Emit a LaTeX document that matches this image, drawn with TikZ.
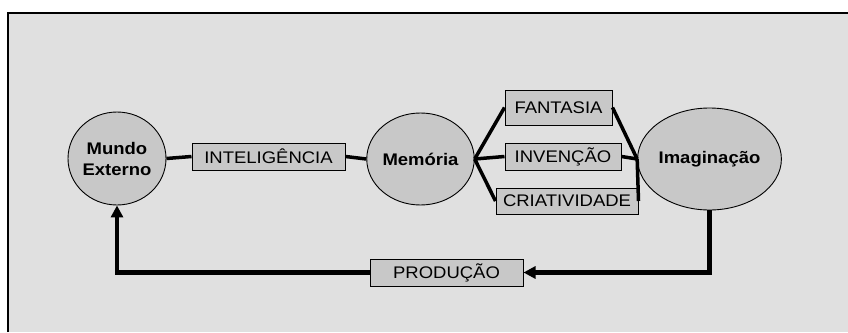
\documentclass[tikz,border=0pt]{standalone}
\usepackage{fontspec}
\setmainfont{Liberation Sans}[FakeStretch=1.1]
\usetikzlibrary{arrows.meta,shapes.geometric}
\definecolor{fundo}{RGB}{224,224,224}
\definecolor{cinza}{RGB}{200,200,200}
\tikzset{
  circulo/.style={ellipse, draw, line width=0.9pt, fill=cinza, inner sep=0pt,
    font=\fontsize{16.8}{21}\selectfont\bfseries, align=center},
  caixa/.style={rectangle, draw, line width=1pt, fill=cinza, inner sep=0pt,
    font=\fontsize{16.8}{20}\selectfont},
  liga/.style={line width=3.5pt},
  seta/.style={line width=4.3pt, -{Triangle[length=12pt,width=12pt]}},
}
\begin{document}
\begin{tikzpicture}[x=1pt,y=-1pt]
  \useasboundingbox (0,0) rectangle (848,332);
  % fundo e moldura
  \fill[fundo] (8,13) rectangle (848,332);
  \draw[line width=1.5pt] (8,332) -- (8,13) -- (848,13);

  % circulos
  \node (ME)  [circulo, minimum width=98pt,  minimum height=93pt]  at (117,158.5) {Mundo\\Externo};
  \node (MEM) [circulo, minimum width=97pt,  minimum height=92pt]  at (420.5,159) {Memória};
  \node (IMA) [circulo, minimum width=107pt, minimum height=102pt] at (709.5,159) {Imaginação};

  % caixas
  \node (INT) [caixa, minimum width=153pt, minimum height=27pt] at (268.5,156.5) {INTELIGÊNCIA};
  \node (FAN) [caixa, minimum width=107pt, minimum height=35pt] at (558.5,107.5) {FANTASIA};
  \node (INV) [caixa, minimum width=116pt, minimum height=27pt] at (563,156.5)   {INVENÇÃO};
  \node (CRI) [caixa, minimum width=142pt, minimum height=26pt] at (567,201)     {CRIATIVIDADE};
  \node (PRO) [caixa, minimum width=153pt, minimum height=27pt] at (446.5,272.5) {PRODUÇÃO};

  % ligacoes
  \draw[liga] (ME.east) -- (INT.west);
  \draw[liga] (INT.east) -- (MEM.west);
  \draw[liga] (MEM.east) -- (FAN.west);
  \draw[liga] (MEM.east) -- (INV.west);
  \draw[liga] (MEM.east) -- (CRI.west);
  \draw[liga] (FAN.east) -- (IMA.west);
  \draw[liga] (INV.east) -- (IMA.west);
  \draw[liga] (CRI.east) -- (IMA.west);

  % setas
  \draw[seta] (IMA.south) |- (PRO.east);
  \draw[seta] (PRO.west) -| (ME.south);
\end{tikzpicture}
\end{document}
